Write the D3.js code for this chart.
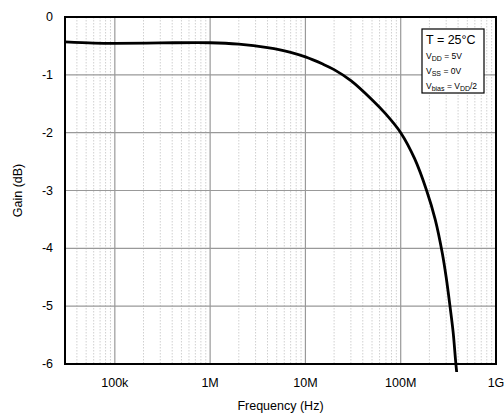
<!DOCTYPE html>
<html>
<head>
<meta charset="utf-8">
<script src="https://cdn.jsdelivr.net/npm/d3@7"></script>
<style>
  body { margin: 0; background: #fff; }
  svg { font-family: "Liberation Sans", Arial, sans-serif; }
</style>
</head>
<body>
<div class="js-chart"></div>
<script>
'use strict';

//gain curve
var freqs = [3e4, 6e4, 1e5, 3e5, 1e6, 2e6, 4e6, 7e6, 1e7, 1.5e7, 2e7, 3e7, 5e7, 7e7, 1e8, 1.4e8, 1.87e8, 2.3e8, 2.73e8, 3e8, 3.29e8, 3.55e8, 3.77e8, 3.9e8];
var gains = [-0.43, -0.45, -0.455, -0.448, -0.445, -0.47, -0.53, -0.61, -0.69, -0.81, -0.91, -1.1, -1.43, -1.68, -2.0, -2.45, -3.0, -3.5, -4.08, -4.5, -5.0, -5.45, -5.95, -6.2];

var xTicks = [1e5, 1e6, 1e7, 1e8, 1e9];
var xTickLabels = ['100k', '1M', '10M', '100M', '1G'];
var yTicks = [0, -1, -2, -3, -4, -5, -6];

var dim = { w: 504, h: 417 };
var m = { l: 65, r: 8, t: 17, b: 53 };

var svg = d3.select('.js-chart').append('svg')
    .attr('width', dim.w)
    .attr('height', dim.h);

var x = d3.scaleLog().domain([3e4, 1e9]).range([m.l, dim.w - m.r]);
var y = d3.scaleLinear().domain([-6, 0]).range([dim.h - m.b, m.t]);

//clip for curve - lets it run a little past the bottom
svg.append('clipPath').attr('id', 'plot')
    .append('rect')
    .attr('x', m.l).attr('y', m.t)
    .attr('width', dim.w - m.r - m.l)
    .attr('height', dim.h - m.b - m.t + 8);

//minor grid - dotted
var minor = [];
[1e4, 1e5, 1e6, 1e7, 1e8].forEach(function (dec) {
    for (var k = 2; k < 10; k++) {
        var f = dec * k;
        if (f > 3e4 && f < 1e9) { minor.push(f); }
    }
});
svg.append('g').selectAll('line').data(minor).enter().append('line')
    .attr('x1', function (d) { return x(d); })
    .attr('x2', function (d) { return x(d); })
    .attr('y1', m.t).attr('y2', dim.h - m.b)
    .style('stroke', '#d0d0d0')
    .style('stroke-width', 1)
    .style('stroke-dasharray', '1.5,1.5');

//major grid
svg.append('g').selectAll('line').data(xTicks.slice(0, 4)).enter().append('line')
    .attr('x1', function (d) { return x(d); })
    .attr('x2', function (d) { return x(d); })
    .attr('y1', m.t).attr('y2', dim.h - m.b)
    .style('stroke', '#999')
    .style('stroke-width', 1.2);
svg.append('g').selectAll('line').data(yTicks.slice(1, 6)).enter().append('line')
    .attr('x1', m.l).attr('x2', dim.w - m.r)
    .attr('y1', function (d) { return y(d); })
    .attr('y2', function (d) { return y(d); })
    .style('stroke', '#999')
    .style('stroke-width', 1.2);

//curve
var line = d3.line()
    .x(function (d, i) { return x(freqs[i]); })
    .y(function (d) { return y(d); })
    .curve(d3.curveCatmullRom.alpha(0.5));
svg.append('path')
    .datum(gains)
    .attr('d', line)
    .attr('clip-path', 'url(#plot)')
    .style('fill', 'none')
    .style('stroke', '#000')
    .style('stroke-width', 2.8);

//frame
svg.append('rect')
    .attr('x', m.l).attr('y', m.t)
    .attr('width', dim.w - m.r - m.l)
    .attr('height', dim.h - m.b - m.t)
    .style('fill', 'none')
    .style('stroke', '#000')
    .style('stroke-width', 2);

//tick labels
svg.append('g').selectAll('text').data(yTicks).enter().append('text')
    .attr('x', m.l - 12)
    .attr('y', function (d) { return y(d) + 4; })
    .attr('text-anchor', 'end')
    .style('font-size', '12.5px')
    .text(function (d) { return d === 0 ? '0' : '-' + Math.abs(d); });

svg.append('g').selectAll('text').data(xTicks).enter().append('text')
    .attr('x', function (d) { return x(d); })
    .attr('y', dim.h - m.b + 23)
    .attr('text-anchor', 'middle')
    .style('font-size', '12.5px')
    .text(function (d, i) { return xTickLabels[i]; });

//axis titles
svg.append('text')
    .attr('x', (m.l + dim.w - m.r) / 2)
    .attr('y', 410)
    .attr('text-anchor', 'middle')
    .style('font-size', '12.5px')
    .text('Frequency (Hz)');
svg.append('text')
    .attr('transform', 'translate(22,' + ((m.t + dim.h - m.b) / 2) + ') rotate(-90)')
    .attr('text-anchor', 'middle')
    .style('font-size', '12.5px')
    .text('Gain (dB)');

//conditions box
var box = svg.append('g').attr('transform', 'translate(422,29)');
box.append('rect')
    .attr('width', 62).attr('height', 64)
    .style('fill', '#fff')
    .style('stroke', '#000')
    .style('stroke-width', 1.2);
box.append('text').attr('x', 4).attr('y', 15)
    .style('font-size', '12.5px')
    .text('T = 25°C');

function condition(yPos, parts) {
    var t = box.append('text').attr('x', 4).attr('y', yPos).style('font-size', '8.5px');
    parts.forEach(function (p) {
        t.append('tspan')
            .attr('baseline-shift', p[1] ? '-25%' : null)
            .style('font-size', p[1] ? '7px' : null)
            .text(p[0]);
    });
}
condition(30, [['V', 0], ['DD', 1], [' = 5V', 0]]);
condition(45, [['V', 0], ['SS', 1], [' = 0V', 0]]);
condition(60, [['V', 0], ['bias', 1], [' = V', 0], ['DD', 1], ['/2', 0]]);
</script>
</body>
</html>
